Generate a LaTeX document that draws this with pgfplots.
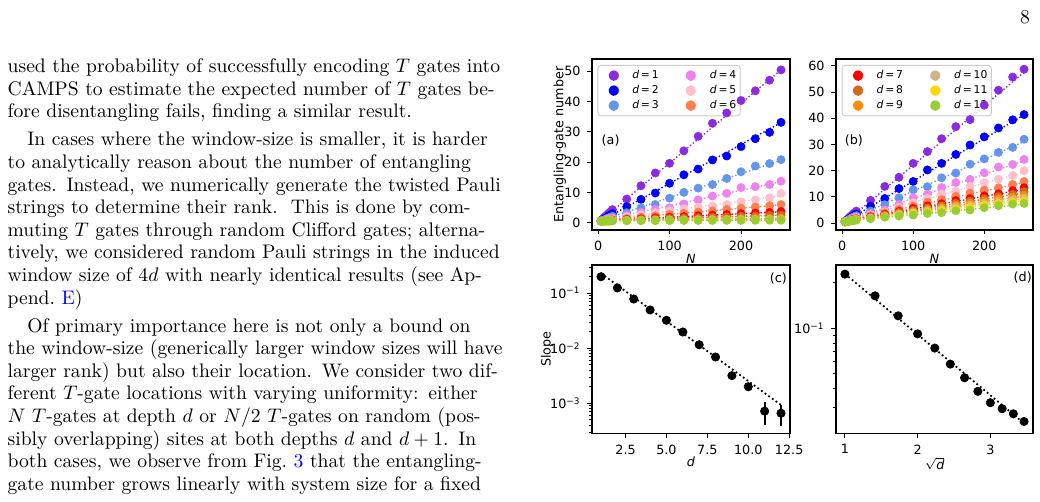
\documentclass[border=0pt]{standalone}
\usepackage{fontspec}
\usepackage{xcolor}
\usepackage{pgfplots}
\usepackage{pgfplotstable}
\pgfplotsset{compat=1.18}
\newfontfamily\figfont{DejaVu Sans}

\definecolor{c1}{HTML}{8A2BE2}
\definecolor{c2}{HTML}{0000FF}
\definecolor{c3}{HTML}{6495ED}
\definecolor{c4}{HTML}{EE82EE}
\definecolor{c5}{HTML}{FFC0CB}
\definecolor{c6}{HTML}{FF7F50}
\definecolor{c7}{HTML}{FF0000}
\definecolor{c8}{HTML}{D2691E}
\definecolor{c9}{HTML}{FF8C00}
\definecolor{c10}{HTML}{D2B48C}
\definecolor{c11}{HTML}{FFD700}
\definecolor{c12}{HTML}{9ACD32}
\definecolor{legframe}{gray}{0.8}

% Entangling-gate number, T gates at fixed depth d
\pgfplotstableread{
N    d1   d2   d3   d4   d5   d6   d7   d8   d9   d10  d11  d12
4    0.7  0.6  0.55 0.5  0.5  0.5  0.5  0.5  0.5  0.5  0.5  0.5
6    1.1  0.85 0.7  0.6  0.6  0.55 0.55 0.5  0.5  0.5  0.5  0.5
8    1.6  1.2  0.9  0.8  0.7  0.65 0.6  0.6  0.55 0.55 0.55 0.55
10   2.0  1.5  1.1  0.9  0.8  0.7  0.65 0.6  0.6  0.6  0.6  0.6
12   2.4  1.8  1.3  1.0  0.9  0.8  0.7  0.65 0.6  0.6  0.6  0.6
14   2.9  2.1  1.5  1.15 1.0  0.85 0.75 0.7  0.65 0.6  0.6  0.6
16   3.3  2.4  1.7  1.3  1.05 0.9  0.8  0.7  0.65 0.65 0.6  0.6
18   3.8  2.7  1.9  1.4  1.1  0.95 0.8  0.75 0.7  0.65 0.65 0.6
20   4.3  3.0  2.1  1.5  1.2  1.0  0.85 0.75 0.7  0.65 0.65 0.65
40   7.8  5.3  3.3  2.4  2.0  1.4  1.1  0.95 0.8  0.75 0.7  0.65
60   12.2 7.7  4.9  3.4  2.6  1.8  1.3  1.1  0.85 0.8  0.7  0.7
80   16.4 9.8  6.0  4.4  3.3  2.3  1.6  1.2  0.9  0.85 0.72 0.7
100  19.6 13.0 8.1  4.9  4.0  2.7  1.8  1.4  1.0  0.85 0.75 0.72
120  23.7 15.8 10.0 6.2  4.6  3.1  2.0  1.5  1.0  0.9  0.75 0.75
140  28.5 17.7 11.4 7.5  5.2  3.5  2.3  1.6  1.1  0.95 0.78 0.75
160  32.8 20.7 12.6 8.8  5.5  3.9  2.5  1.8  1.2  0.95 0.8  0.78
180  36.2 22.0 14.6 9.7  6.0  4.4  2.7  1.9  1.2  1.0  0.8  0.8
200  40.3 25.1 16.8 11.6 6.9  4.8  3.0  2.1  1.3  1.05 0.82 0.8
220  43.5 27.7 18.7 11.9 7.5  5.2  3.2  2.2  1.4  1.1  0.85 0.82
240  47.0 29.8 19.5 12.6 8.2  5.6  3.4  2.4  1.4  1.1  0.85 0.83
256  50.4 33.1 20.8 13.7 9.7  6.0  3.7  2.5  1.5  1.15 0.9  0.85
}\tabA
\pgfplotstableread{
N    d1   d2   d3   d4   d5   d6   d7   d8   d9   d10  d11  d12
4    0.8  0.6  0.7  0.8  0.8  0.9  0.7  0.7  0.65 0.65 0.65 0.65
256  50.4 33.0 20.6 13.5 8.9  5.9  3.6  2.5  1.45 1.15 0.85 0.82
}\fitA

% Entangling-gate number, T gates on random sites at depths d and d+1
\pgfplotstableread{
N    d1   d2   d3   d4   d5   d6   d7   d8   d9   d10  d11  d12
4    0.7  0.6  0.55 0.55 0.5  0.5  0.5  0.5  0.5  0.5  0.5  0.5
6    1.1  0.9  0.8  0.75 0.7  0.7  0.65 0.65 0.6  0.6  0.6  0.6
8    1.6  1.3  1.1  1.0  0.9  0.85 0.8  0.8  0.75 0.75 0.7  0.7
10   2.1  1.7  1.4  1.2  1.1  1.0  0.95 0.9  0.85 0.85 0.8  0.8
12   2.6  2.0  1.7  1.4  1.3  1.2  1.1  1.05 1.0  0.95 0.9  0.9
14   3.1  2.4  2.0  1.7  1.5  1.35 1.25 1.15 1.1  1.05 1.0  1.0
16   3.6  2.8  2.3  1.9  1.7  1.5  1.4  1.3  1.2  1.15 1.1  1.05
18   4.1  3.1  2.5  2.1  1.9  1.7  1.5  1.4  1.3  1.25 1.2  1.15
20   4.6  3.5  2.8  2.3  2.0  1.8  1.6  1.5  1.4  1.35 1.3  1.2
40   8.7  6.5  4.6  3.6  3.2  2.8  2.4  2.2  2.0  1.9  1.8  1.7
60   14.0 9.4  7.0  5.1  4.3  3.9  3.4  3.1  2.8  2.5  2.3  2.3
80   17.5 13.2 9.7  7.1  6.0  5.3  4.5  4.1  3.6  3.3  3.0  2.7
100  22.8 15.9 12.7 9.7  7.8  6.5  5.6  4.9  4.4  4.0  3.6  3.1
120  27.3 20.3 13.9 11.0 9.4  8.0  6.6  5.8  5.2  4.7  4.2  3.7
140  32.2 22.8 17.3 13.6 11.0 9.0  7.4  6.6  6.0  5.4  4.8  4.0
160  36.8 26.2 19.1 15.5 12.2 10.2 8.6  7.6  6.8  6.2  5.4  4.7
180  39.5 29.8 22.5 16.7 14.0 11.5 9.4  8.4  7.6  6.8  6.0  5.0
200  45.0 32.9 24.5 19.2 15.4 12.6 10.4 9.3  8.4  7.6  6.8  5.9
220  50.7 36.3 27.0 21.4 16.8 13.5 11.2 10.1 9.2  8.3  7.5  6.7
240  55.7 39.4 28.9 22.4 18.2 14.8 12.4 11.0 9.9  9.0  8.1  7.3
256  58.7 41.4 32.0 24.3 20.0 15.9 13.5 12.0 10.6 9.6  8.6  7.5
}\tabB
\pgfplotstableread{
N    d1   d2   d3   d4   d5   d6   d7   d8   d9   d10  d11  d12
4    0.3  0.5  0.6  0.5  0.8  0.8  0.8  0.8  0.8  0.8  0.8  0.8
256  57.5 41.3 31.1 23.8 19.4 15.5 12.9 11.5 10.3 9.4  8.5  7.2
}\fitB

% Fitted slopes
\pgfplotstableread{
d   s        e
1   0.200    0.025
2   0.125    0.008
3   0.0787   0.004
4   0.0497   0.002
5   0.0323   0.0012
6   0.0198   0.0008
7   0.0116   0.0006
8   0.00695  0.0004
9   0.00318  0.0002
10  0.0020   0.00015
11  0.00072  0.00032
12  0.00066  0.00028
}\tabC
\pgfplotstableread{
d   s
1   0.231
12  0.00093
}\fitC
\pgfplotstableread{
x       s
1       0.228
1.4142  0.164
1.7321  0.121
2       0.092
2.2361  0.0741
2.4495  0.0581
2.6458  0.0472
2.8284  0.0384
3       0.0323
3.1623  0.0295
3.3166  0.0273
3.4641  0.0243
}\tabD
\pgfplotstableread{
x       s
1       0.229
3.4641  0.0236
}\fitD

\newcommand{\figsize}{\figfont\fontsize{6.5}{7.5}\selectfont}

\pgfplotsset{
  panel/.style={
    scale only axis, anchor=south west,
    tick align=outside, tick pos=left,
    major tick length=2.3pt, minor tick length=1.3pt,
    every tick/.style={black, line width=0.5pt},
    axis line style={line width=0.55pt},
    tick label style={font=\figsize},
    label style={font=\figsize},
    /pgf/number format/assume math mode=true,
    xlabel style={at={(axis description cs:0.5,-0.1)}, anchor=north},
    ylabel style={anchor=center},
  },
  pts/.style={only marks, mark=*, mark size=2.1pt, forget plot,
    mark options={solid, line width=0.3pt}},
  fit/.style={line width=0.7pt, dash pattern=on 0.7pt off 1.15pt, forget plot},
  bfit/.style={black, line width=0.9pt, dash pattern=on 0.9pt off 1.4pt, forget plot},
}

% one depth: dotted linear fit, then the measured points
\newcommand{\series}[4]{%
  \addplot[fit, color=#4] table[x=N, y=#3] {#2};
  \addplot[pts, color=#4] table[x=N, y=#3] {#1};
}
\newcommand{\allseries}[2]{%
  \series{#1}{#2}{d1}{c1}\series{#1}{#2}{d2}{c2}\series{#1}{#2}{d3}{c3}
  \series{#1}{#2}{d4}{c4}\series{#1}{#2}{d5}{c5}\series{#1}{#2}{d6}{c6}
  \series{#1}{#2}{d7}{c7}\series{#1}{#2}{d8}{c8}\series{#1}{#2}{d9}{c9}
  \series{#1}{#2}{d10}{c10}\series{#1}{#2}{d11}{c11}\series{#1}{#2}{d12}{c12}
}

% legend key: a dot with its error bar, set as text
\newcommand{\sw}[1]{%
  \makebox[0pt]{\textcolor{#1}{$\vcenter{\hbox{\rule{0.55pt}{5.2pt}}}$}}%
  \makebox[0pt]{\textcolor{#1}{$\vcenter{\hbox{\fontsize{6.8}{7}\selectfont ●}}$}}}
% one legend row: two keys with their labels
\newcommand{\legrow}[4]{\hbox{\hspace*{8.16pt}\sw{#1}\hspace*{9.4pt}\textit{d}\,=\,#2%
  \hspace*{16.5pt}\sw{#3}\hspace*{9.6pt}\textit{d}\,=\,#4\hspace*{2pt}}}
\newcommand{\legbox}[1]{%
  \node[anchor=north west, draw=legframe, line width=0.5pt, fill=white,
        fill opacity=0.8, text opacity=1, rounded corners=1.5pt,
        inner xsep=0pt, inner ysep=2.4pt,
        font=\figfont\fontsize{5.5}{6.5}\selectfont] at #1}

\begin{document}
\begin{tikzpicture}[x=1pt,y=1pt]
\path[use as bounding box] (0,0) rectangle (530.4,256.02);

% page number
\node[font=\fontsize{10}{12}\selectfont, inner sep=0pt] at (522.75,247.3) {8};

% running text of the column
\node[anchor=north west, inner sep=0pt, text width=252pt,
      font=\fontsize{10}{11.53}\selectfont] at (3.7,226.3) {%
\noindent\makebox[\linewidth][s]{used the probability of successfully encoding $T$ gates into}\\
\makebox[\linewidth][s]{CAMPS to estimate the expected number of $T$ gates be-}\\
\makebox[\linewidth][l]{fore disentangling fails, finding a similar result.}\\[2.8pt]
\makebox[\linewidth][s]{\hspace*{10pt}In cases where the window-size is smaller, it is harder}\\
\makebox[\linewidth][s]{to analytically reason about the number of entangling}\\
\makebox[\linewidth][s]{gates. Instead, we numerically generate the twisted Pauli}\\
\makebox[\linewidth][s]{strings to determine their rank.\ \ This is done by com-}\\
\makebox[\linewidth][s]{muting $T$ gates through random Clifford gates; alterna-}\\
\makebox[\linewidth][s]{tively, we considered random Pauli strings in the induced}\\
\makebox[\linewidth][s]{window size of $4d$ with nearly identical results (see Ap-}\\
\makebox[\linewidth][l]{pend.~\textcolor{blue}{E})}\\[2.8pt]
\makebox[\linewidth][s]{\hspace*{10pt}Of primary importance here is not only a bound on}\\
\makebox[\linewidth][s]{the window-size (generically larger window sizes will have}\\
\makebox[\linewidth][s]{larger rank) but also their location. We consider two dif-}\\
\makebox[\linewidth][s]{ferent $T$-gate locations with varying uniformity: either}\\
\makebox[\linewidth][s]{$N$ $T$-gates at depth $d$ or $N/2$ $T$-gates on random (pos-}\\
\makebox[\linewidth][s]{sibly overlapping) sites at both depths $d$ and $d\mskip4mu{+}\mskip4mu1$. In}\\
\makebox[\linewidth][s]{both cases, we observe from Fig.~\textcolor{blue}{3} that the entangling-}\\
\makebox[\linewidth][s]{gate number grows linearly with system size for a fixed}%
};

% (a) fixed depth
\begin{axis}[panel,
  at={(301.92pt,138.72pt)}, width=100.98pt, height=87.21pt,
  xmin=-8.6, xmax=268.6, ymin=-2.4, ymax=54.0,
  xtick={0,100,200}, ytick={0,10,20,30,40,50},
  xlabel={\textit{N}}, ylabel={Entangling-gate number},
  ylabel style={at={(axis description cs:-0.162,0.5)}},
]
\allseries{\tabA}{\fitA}
\node[font=\figsize] at (axis description cs:0.094,0.522) {(a)};
\legbox{(axis description cs:0.027,0.965)}
  {\vbox{\baselineskip=7.7pt \lineskiplimit=-20pt
    \legrow{c1}{1}{c4}{4}\legrow{c2}{2}{c5}{5}\legrow{c3}{3}{c6}{6}}};
\end{axis}

% (b) random sites at depths d and d+1
\begin{axis}[panel,
  at={(426.36pt,138.72pt)}, width=100.47pt, height=87.21pt,
  xmin=-8.6, xmax=268.6, ymin=-2.6, ymax=62.6,
  xtick={0,100,200}, ytick={0,10,20,30,40,50,60},
  xlabel={\textit{N}},
]
\allseries{\tabB}{\fitB}
\node[font=\figsize] at (axis description cs:0.091,0.522) {(b)};
\legbox{(axis description cs:0.029,0.965)}
  {\vbox{\baselineskip=7.7pt \lineskiplimit=-20pt
    \legrow{c7}{7}{c10}{10}\legrow{c8}{8}{c11}{11}\legrow{c9}{9}{c12}{12}}};
\end{axis}

% (c) slope against d
\begin{axis}[panel,
  at={(301.92pt,35.04pt)}, width=100.98pt, height=85.83pt,
  ymode=log,
  xmin=0.45, xmax=12.55, ymin=2.85e-4, ymax=0.327,
  xtick={2.5,5,7.5,10,12.5}, xticklabels={2.5,5.0,7.5,10.0,12.5},
  ytick={1e-3,1e-2,1e-1},
  yticklabels={10\textsuperscript{−3},10\textsuperscript{−2},10\textsuperscript{−1}},
  minor ytick={3e-4,4e-4,5e-4,6e-4,7e-4,8e-4,9e-4,
               2e-3,3e-3,4e-3,5e-3,6e-3,7e-3,8e-3,9e-3,
               2e-2,3e-2,4e-2,5e-2,6e-2,7e-2,8e-2,9e-2,0.2,0.3},
  xlabel={\textit{d}}, ylabel={Slope},
  ylabel style={at={(axis description cs:-0.227,0.5)}},
]
\addplot[bfit] table[x=d, y=s] {\fitC};
\addplot[black, only marks, mark=*, mark size=2.1pt,
  error bars/.cd, y dir=both, y explicit, error mark=none,
  error bar style={line width=0.9pt}]
  table[x=d, y=s, y error=e] {\tabC};
\node[font=\figsize] at (axis description cs:0.941,0.921) {(c)};
\end{axis}

% (d) slope against sqrt(d)
\begin{axis}[panel,
  at={(426.36pt,35.04pt)}, width=100.47pt, height=85.83pt,
  ymode=log,
  xmin=0.877, xmax=3.587, ymin=0.0203, ymax=0.262,
  xtick={1,2,3},
  ytick={0.1}, yticklabels={10\textsuperscript{−1}},
  minor ytick={0.03,0.04,0.05,0.06,0.07,0.08,0.09,0.2},
  xlabel={$\sqrt{\mbox{\textit{d}}}$},
]
\addplot[bfit] table[x=x, y=s] {\fitD};
\addplot[black, only marks, mark=*, mark size=2.1pt] table[x=x, y=s] {\tabD};
\node[font=\figsize] at (axis description cs:0.948,0.927) {(d)};
\end{axis}
\end{tikzpicture}
\end{document}
